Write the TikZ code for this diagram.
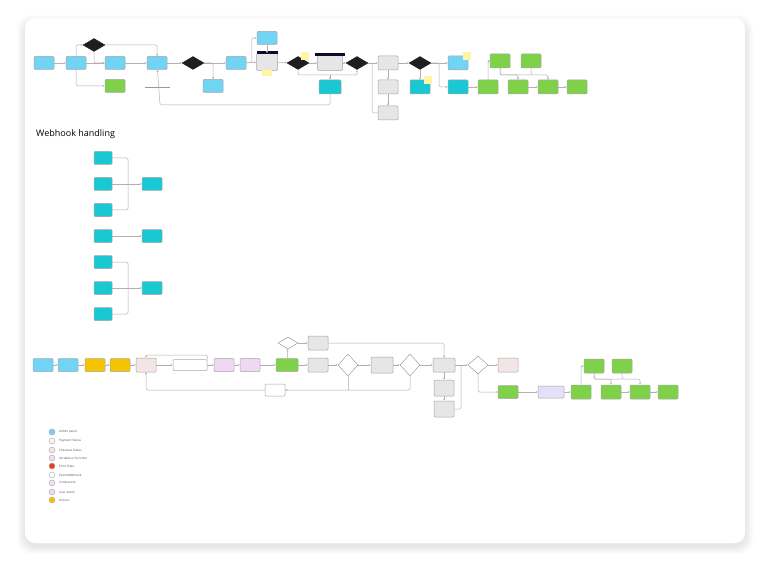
\documentclass[tikz,border=0pt]{standalone}
\usepackage{fontspec}
\setmainfont{Open Sans}
\usetikzlibrary{shapes.geometric,arrows.meta}
\definecolor{cBlue}{HTML}{72D4F5}
\definecolor{cTeal}{HTML}{19C8D2}
\definecolor{cGreen}{HTML}{80D14A}
\definecolor{cYel}{HTML}{F6C300}
\definecolor{cPink}{HTML}{F3E5E5}
\definecolor{cLil}{HTML}{F0D8F4}
\definecolor{cLav}{HTML}{E3E0F8}
\definecolor{cGray}{HTML}{E6E6E6}
\definecolor{cStick}{HTML}{FFF5A5}
\definecolor{cLine}{HTML}{B0B0B0}
\definecolor{cDark}{HTML}{1E1E1E}
\definecolor{cNavy}{HTML}{0B0B2E}
\definecolor{cRed}{HTML}{E8401C}
\tikzset{
 b/.style={draw=black!35,rounded corners=1pt,minimum width=20pt,minimum height=13pt,line width=0.5pt,fill=#1,inner sep=0pt},
 dd/.style={diamond,aspect=1.8,fill=cDark,draw=cDark,minimum width=22pt,minimum height=13pt,inner sep=0pt},
 wd/.style={diamond,draw=black!45,fill=white,minimum width=20pt,minimum height=22pt,inner sep=0pt,aspect=0.9},
 st/.style={fill=cStick,minimum size=8pt,inner sep=0pt},
 c/.style={draw=cLine,line width=0.5pt,-{Latex[length=2pt,width=2pt]},rounded corners=1.5pt},
 cn/.style={draw=cLine,line width=0.5pt,rounded corners=1.5pt},
 lg/.style={circle,draw=black!35,minimum size=6pt,inner sep=0pt,fill=#1},
 lt/.style={anchor=west,font=\fontsize{3}{3}\selectfont,text=black!70,inner sep=0pt}
}
\begin{document}
\begin{tikzpicture}[x=1pt,y=-1pt]
\useasboundingbox (0,0) rectangle (768,572);
\foreach \i in {1,...,8}{
  \pgfmathsetmacro{\xa}{25-\i}\pgfmathsetmacro{\ya}{23-\i}
  \pgfmathsetmacro{\xb}{745+\i}\pgfmathsetmacro{\yb}{546+\i}
  \fill[black,opacity=0.012,rounded corners=14pt] (\xa,\ya) rectangle (\xb,\yb);
}
\node[draw=none,fill=white,rounded corners=10pt,minimum width=720pt,minimum height=525pt] (card) at (385,280.5) {};
% ---------- top row
\node[b=cBlue] (a1) at (44,63) {};
\node[b=cBlue] (a2) at (76,63) {};
\node[dd] (d1) at (94,45) {};
\node[b=cBlue] (a3) at (115,63) {};
\node[b=cGreen] (g1) at (115,86) {};
\node[b=cBlue] (a4) at (157,63) {};
\coordinate (bl) at (145,87); \coordinate (br) at (170,87);
\draw[black!40,line width=0.6pt] (bl) -- (br);
\node[dd] (d2) at (193,63) {};
\node[b=cBlue] (a5) at (213,86) {};
\node[b=cBlue] (a6) at (236,63) {};
\node[b=cBlue] (a7) at (267,38) {};
\node[b=cGray,minimum width=21pt,minimum height=17pt] (h1) at (267,62) {};
\fill[cNavy] (256.5,51.5) rectangle (277.5,54);
\node[st,minimum width=10pt,minimum height=6pt] (s1) at (267,73) {};
\node[dd] (d3) at (298,63) {};
\node[st] (s2) at (305,56) {};
\node[b=cGray,minimum width=25pt,minimum height=15pt] (h2) at (330,63) {};
\fill[cNavy] (315,53) rectangle (345,56);
\node[dd] (d4) at (357,63) {};
\node[b=cTeal,minimum width=22pt,minimum height=14pt] (t1) at (330,87) {};
\node[b=cGray,minimum height=14pt] (g2) at (388,63) {};
\node[b=cGray,minimum height=14pt] (g3) at (388,87) {};
\node[b=cGray,minimum height=14pt] (g4) at (388,113) {};
\node[dd] (d5) at (420,63) {};
\node[b=cTeal,minimum height=14pt] (t2) at (420,87) {};
\node[st] (s3) at (428,80) {};
\node[b=cBlue,minimum height=14pt] (a8) at (458,63) {};
\node[st] (s4) at (467,56) {};
\node[b=cTeal,minimum height=14pt] (t3) at (458,87) {};
\node[b=cGreen,minimum height=14pt] (e1) at (488,87) {};
\node[b=cGreen,minimum height=14pt] (e2) at (500,61) {};
\node[b=cGreen,minimum height=14pt] (e3) at (531,61) {};
\node[b=cGreen,minimum height=14pt] (e4) at (518,87) {};
\node[b=cGreen,minimum height=14pt] (e5) at (548,87) {};
\node[b=cGreen,minimum height=14pt] (e6) at (577,87) {};
\draw[c] (a1) -- (a2);
\draw[c] (a2) -- (a3);
\draw[c] (a2) |- (d1);
\draw[c] (a2) |- (g1);
\draw[c] (d1) -| (a4);
\draw[c] (d1) |- (a3);
\draw[c] (a3) -- (a4);
\draw[c] (a4) -- (d2);
\draw[c] (d2) -- (a6);
\draw[c] (d2.east) -| (a5);
\draw[c] (a6) -| ([xshift=-5pt]a7.west) -- (a7);
\draw[c] (a7) -- (h1);
\draw[c] (a6) -- (h1);
\draw[c] (h1) -- (d3);
\draw[c] (d3) -- (h2);
\draw[c] (h2) -- (d4);
\draw[c] (d3) |- (340,75) -| (d4);
\draw[c] (330,75) -- (t1);
\draw[c] (t1) |- (160,105) -- (a4);
\draw[c] (d4) -- (g2);
\draw[c] (g2) -- (g3);
\draw[c] (g3) -- (g4);
\draw[cn] (372,63) |- (g4);
\draw[c] (g2) -- (d5);
\draw[c] (d5) -- (a8);
\draw[c] (d5) -- (t2);
\draw[c] (d5.east) -| (439,80) |- (t3);
\draw[c] (t3) -- (e1);
\draw[c] (e1) |- (e2);
\draw[c] (e2) |- (518,75) -- (e4);
\draw[c] (e3) |- (548,75) -- (e5);
\draw[cn] (e2) |- (531,75);
\draw[c] (e4) -- (e5);
\draw[c] (e5) -- (e6);
% ---------- webhook
\node[anchor=west,font=\fontsize{9}{9}\selectfont,inner sep=0pt] (title) at (36,134) {Webhook handling};
\foreach \y/\n in {158/w1,184/w2,210/w3,236/w4,262/w5,288/w6,314/w7}
  \node[b=cTeal,minimum width=18pt] (\n) at (103,\y) {};
\node[b=cTeal] (r1) at (152,184) {};
\node[b=cTeal] (r2) at (152,236) {};
\node[b=cTeal] (r3) at (152,288) {};
\draw[cn] (w1) -| (128,184); \draw[cn] (w3) -| (128,184);
\draw[c] (w2) -- (r1);
\draw[c] (w4) -- (r2);
\draw[cn] (w5) -| (128,288); \draw[cn] (w7) -| (128,288);
\draw[c] (w6) -- (r3);
% ---------- bottom row
\node[b=cBlue] (p1) at (43,365) {};
\node[b=cBlue] (p2) at (68,365) {};
\node[b=cYel] (p3) at (95,365) {};
\node[b=cYel] (p4) at (120,365) {};
\node[b=cPink,minimum height=14pt] (p5) at (146,365) {};
\node[b=white,minimum width=34pt,minimum height=11pt] (p6) at (190,365) {};
\node[b=cLil] (p7) at (224,365) {};
\node[b=cLil] (p8) at (250,365) {};
\node[b=cGreen,minimum width=22pt] (p9) at (287,365) {};
\node[wd,minimum width=20pt,minimum height=12pt,aspect=1.7] (q1) at (288,343) {};
\node[b=cGray,minimum height=14pt] (q2) at (318,343) {};
\node[b=cGray,minimum height=14pt] (p10) at (318,365) {};
\node[wd] (q3) at (348,365) {};
\node[b=cGray,minimum width=22pt,minimum height=16pt] (p11) at (382,365) {};
\node[wd] (q4) at (410,365) {};
\node[b=cGray,minimum width=22pt,minimum height=14pt] (p12) at (444,365) {};
\node[b=cGray,minimum height=16pt] (p13) at (444,388) {};
\node[b=cGray,minimum height=16pt] (p14) at (444,409) {};
\node[b=white,minimum height=12pt] (p15) at (275,390) {};
\node[wd,minimum height=18pt] (q5) at (478,365) {};
\node[b=cPink,minimum height=14pt] (p16) at (508,365) {};
\node[b=cGreen] (f1) at (508,392) {};
\node[b=cLav,minimum width=26pt,minimum height=12pt] (f2) at (551,392) {};
\node[b=cGreen,minimum height=14pt] (f3) at (581,392) {};
\node[b=cGreen,minimum height=14pt] (f4) at (594,366) {};
\node[b=cGreen,minimum height=14pt] (f5) at (622,366) {};
\node[b=cGreen,minimum height=14pt] (f6) at (611,392) {};
\node[b=cGreen,minimum height=14pt] (f7) at (640,392) {};
\node[b=cGreen,minimum height=14pt] (f8) at (668,392) {};
\draw[c] (p1) -- (p2); \draw[c] (p2) -- (p3); \draw[c] (p3) -- (p4);
\draw[c] (p4) -- (p5); \draw[c] (p5) -- (p6); \draw[c] (p6) -- (p7);
\draw[c] (p7) -- (p8); \draw[c] (p8) -- (p9);
\draw[c] (p6.north east) |- (146,355) -- (p5);
\draw[c] (p9) -- (q1);
\draw[c] (q1) -- (q2);
\draw[c] (q2) -| (p12);
\draw[c] (p9) -- (p10); \draw[c] (p10) -- (q3); \draw[c] (q3) -- (p11);
\draw[c] (p11) -- (q4); \draw[c] (q4) -- (p12);
\draw[c] (q4) |- (p15);
\draw[cn] (q3) |- (348,390);
\draw[c] (p15) -| (p5);
\draw[c] (p12) -- (p13); \draw[c] (p13) -- (p14);
\draw[c] (p12) -- (q5);
\draw[cn] (p14) -| (461,365);
\draw[c] (q5) -- (p16);
\draw[c] (q5) |- (f1);
\draw[c] (f1) -- (f2); \draw[c] (f2) -- (f3);
\draw[c] (f3) |- (f4);
\draw[c] (f4) |- (611,379) -- (f6);
\draw[c] (f5) |- (640,379) -- (f7);
\draw[cn] (f4) |- (622,379);
\draw[c] (f6) -- (f7); \draw[c] (f7) -- (f8);
% ---------- legend
\foreach \y/\col/\t/\n in {432/cBlue/{Admin panel}/l1,441/cGray!40/{Payment Status}/l2,450/cPink/{Checkout Status}/l3,458/cLav/{Variable or Function}/l4,466/cRed/{Error State}/l5,475/white/{Event/Webhook}/l6,483/cGray/{Component}/l7,492/cLil/{User action}/l8,500/cYel/{Actions}/l9}{
  \node[lg=\col] (\n) at (52,\y) {};
  \node[lt] (\n t) at (59,\y) {\t};
}
\end{tikzpicture}
\end{document}
